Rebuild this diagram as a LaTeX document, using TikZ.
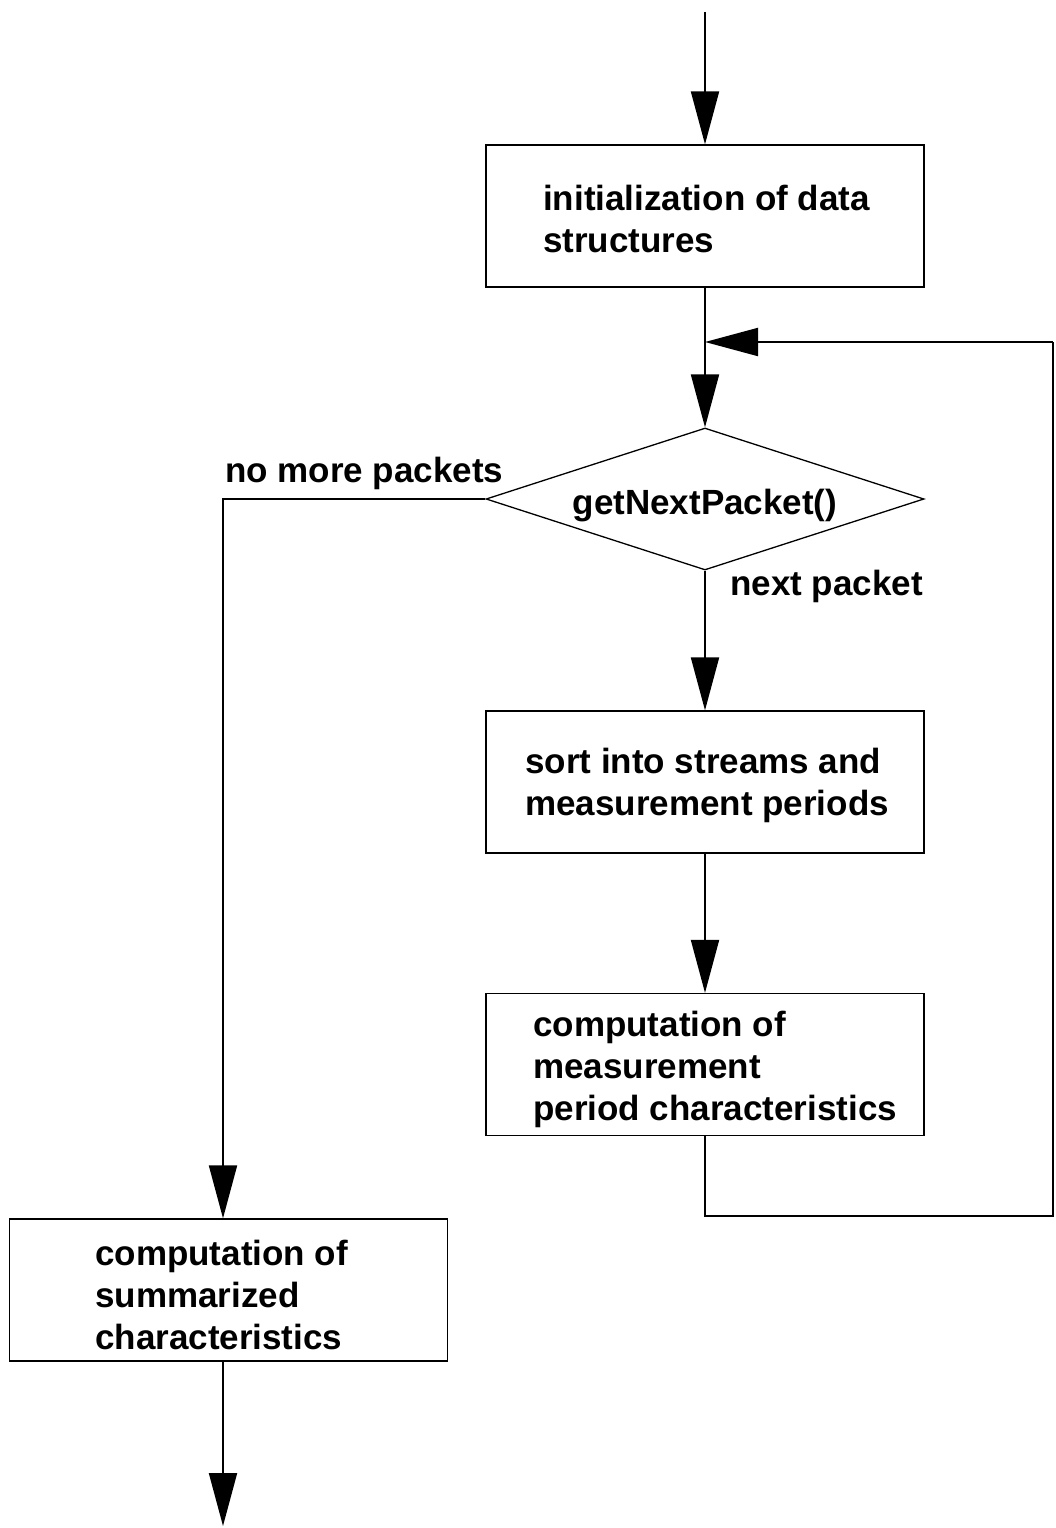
\documentclass[tikz,border=0pt]{standalone}
\usepackage{fontspec}
\setmainfont{Liberation Sans}
\usetikzlibrary{arrows.meta, shapes.geometric}

\tikzset{
    stepbox/.style={draw, line width=1.3pt, minimum width=438pt, minimum height=142pt, inner sep=0pt},
    testbox/.style={draw, diamond, line width=1.3pt, minimum width=438pt, minimum height=142pt, inner sep=0pt},
    txt/.style={font=\fontsize{35}{42}\selectfont\bfseries, align=left, inner sep=0pt},
    flow/.style={line width=2pt, -{Triangle[length=53pt, width=28pt]}},
    wire/.style={line width=2pt}
}

\begin{document}
\begin{tikzpicture}[x=1pt, y=-1pt]

    \useasboundingbox (0,0) rectangle (1056,1528);

    % Boxes and decision
    \node[stepbox] (init) at (705,216) {};
    \node[testbox] (test) at (705,499) {};
    \node[stepbox] (sort) at (705,782) {};
    \node[stepbox] (calc) at (705,1064.5) {};
    \node[stepbox] (summ) at (228.5,1290) {};

    % Texts (base is the last line)
    \node[txt, anchor=base west] (initt) at (543,252) {initialization of data\\structures};
    \node[txt, anchor=base] (testt) at (705,514) {getNextPacket()};
    \node[txt, anchor=base west] (sortt) at (525,815) {sort into streams and\\measurement periods};
    \node[txt, anchor=base west] (calct) at (533,1120) {computation of\\measurement\\period characteristics};
    \node[txt, anchor=base west] (summt) at (95,1349) {computation of\\summarized\\characteristics};

    % Branch labels
    \node[txt, anchor=base west] (nomore) at (225,482) {no more packets};
    \node[txt, anchor=base west] (next) at (730,595) {next packet};

    % Free ends and corners
    \coordinate (start) at (705,12);
    \coordinate (join) at (705,342);
    \coordinate (loopbr) at (1053,1216);
    \coordinate (looptr) at (1053,342);
    \coordinate (stop) at (223,1526);

    % Main flow
    \draw[flow] (start) -- (init.north);
    \draw[flow] (init.south) -- (test.north);
    \draw[flow] (test.south) -- (sort.north);
    \draw[flow] (sort.south) -- (calc.north);

    % Loop back to the decision
    \draw[wire] (calc.south) |- (loopbr) -- (looptr);
    \draw[flow] (looptr) -- (join);

    % Exit branch
    \draw[flow] (test.west) -| ([xshift=-5.5pt]summ.north);
    \draw[flow] ([xshift=-5.5pt]summ.south) -- (stop);

\end{tikzpicture}
\end{document}
